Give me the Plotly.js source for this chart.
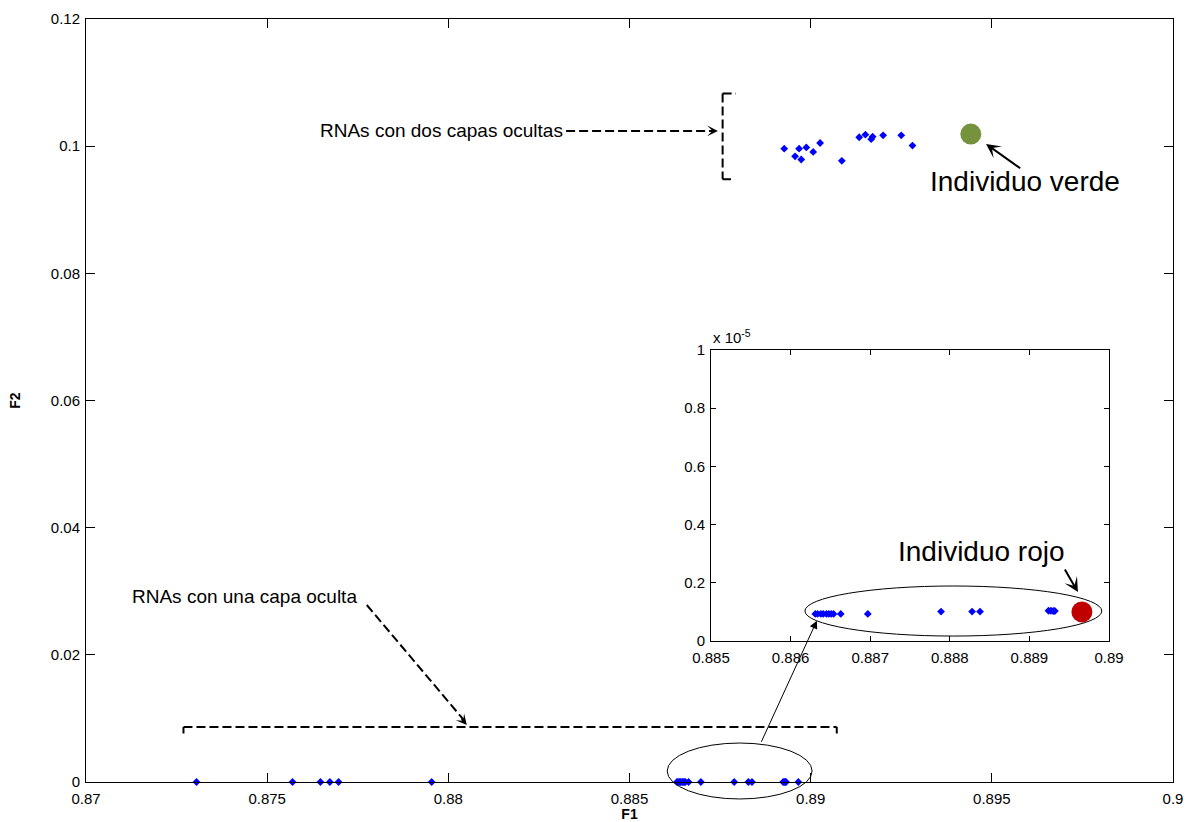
<!DOCTYPE html>
<html>
<head>
<meta charset="utf-8">
<script src="https://cdn.plot.ly/plotly-3.0.1.min.js"></script>
<style>html,body{margin:0;padding:0;background:#fff;}#chart{width:1190px;height:822px;}</style>
</head>
<body>
<div id="chart"></div>
<script>
// ---------- data ----------
// RNAs con dos capas ocultas
const twoLayerF1 = [0.88927, 0.88957, 0.88968, 0.88974, 0.88988, 0.89007, 0.89026, 0.89086, 0.89134, 0.89151, 0.89167, 0.89171, 0.89200, 0.89250, 0.89281];
const twoLayerF2 = [0.0996, 0.0984, 0.0996, 0.0979, 0.0998, 0.0991, 0.1005, 0.0977, 0.1014, 0.1018, 0.1011, 0.1015, 0.1017, 0.1017, 0.1001];
// Individuo verde
const greenF1 = [0.89442];
const greenF2 = [0.1019];
// RNAs con una capa oculta (fuera del zoom)
const oneLayerFarF1 = [0.87305, 0.87570, 0.87647, 0.87673, 0.87697, 0.87954];
const oneLayerFarF2 = [0.95e-6, 0.95e-6, 0.95e-6, 0.95e-6, 0.95e-6, 0.95e-6];
// RNAs con una capa oculta (zona ampliada)
const oneLayerNearF1 = [0.88631, 0.88634, 0.88638, 0.88641, 0.88645, 0.88648, 0.88651, 0.88654, 0.88663, 0.88697, 0.88789, 0.88828, 0.88838, 0.88924, 0.88927, 0.88930, 0.88932];
const oneLayerNearF2 = [0.93e-6, 0.93e-6, 0.93e-6, 0.93e-6, 0.93e-6, 0.93e-6, 0.93e-6, 0.93e-6, 0.93e-6, 0.93e-6, 1.01e-6, 1.01e-6, 1.01e-6, 1.04e-6, 1.04e-6, 1.03e-6, 1.03e-6];
// Individuo rojo
const redF1 = [0.88966];
const redF2 = [1.0e-6];

// tick labels
const mainXTicks = [0.87, 0.875, 0.88, 0.885, 0.89, 0.895, 0.9];
const mainYTicks = [0, 0.02, 0.04, 0.06, 0.08, 0.1, 0.12];
const insetXTicks = [0.885, 0.886, 0.887, 0.888, 0.889, 0.89];
const insetYTickVals = [0, 2e-6, 4e-6, 6e-6, 8e-6, 1e-5];
const insetYTickText = ['0', '0.2', '0.4', '0.6', '0.8', '1'];

// ---------- layout constants ----------
const W = 1190, H = 822;
const M = {l: 86, r: 17, t: 19, b: 40};
const PW = W - M.l - M.r, PH = H - M.t - M.b;
const mainXR = [0.87, 0.9], mainYR = [0, 0.12];
const insXR = [0.885, 0.89], insYR = [0, 1e-5];
const insXD = [0.575, 0.9411], insYD = [0.1848, 0.5662];
const FONT = 'Liberation Sans, Arial, Helvetica, sans-serif';

// data -> paper fraction
function mainP(x, y) {
  return [(x - mainXR[0]) / (mainXR[1] - mainXR[0]), (y - mainYR[0]) / (mainYR[1] - mainYR[0])];
}
function insP(x, y) {
  return [insXD[0] + (x - insXR[0]) / (insXR[1] - insXR[0]) * (insXD[1] - insXD[0]),
          insYD[0] + (y - insYR[0]) / (insYR[1] - insYR[0]) * (insYD[1] - insYD[0])];
}
function px(p) { return [M.l + p[0] * PW, M.t + (1 - p[1]) * PH]; }

const shapes = [];
const annotations = [];
const dashLine = {color: '#000', width: 2, dash: '9px,4px'};

function seg(a, b, line) {
  shapes.push({type: 'line', xref: 'paper', yref: 'paper', x0: a[0], y0: a[1], x1: b[0], y1: b[1], line: line});
}
function head(tip, tail, opts) {
  const t = px(tip), s = px(tail);
  let dx = s[0] - t[0], dy = s[1] - t[1];
  if (opts.short) { const L = Math.hypot(dx, dy); dx = dx / L * opts.short; dy = dy / L * opts.short; }
  annotations.push({xref: 'paper', yref: 'paper', x: tip[0], y: tip[1], ax: dx, ay: dy,
    axref: 'pixel', ayref: 'pixel', text: '', showarrow: true, arrowhead: opts.head,
    arrowsize: opts.size, arrowwidth: opts.width, arrowcolor: '#000', standoff: 0, startstandoff: 0});
}
function ellipse(a, b) {
  shapes.push({type: 'circle', xref: 'paper', yref: 'paper', x0: a[0], y0: a[1], x1: b[0], y1: b[1],
    line: {color: '#000', width: 1}});
}
function label(text, xref, yref, x, y, size, xanchor) {
  annotations.push({xref: xref, yref: yref, x: x, y: y, text: text, showarrow: false,
    xanchor: xanchor || 'center', yanchor: 'middle', font: {family: FONT, size: size, color: '#000'}});
}

// RNAs con dos capas ocultas
label('RNAs con dos capas ocultas', 'x', 'y', 0.88322, 0.1024, 19, 'right');
seg(mainP(0.88325, 0.1024), mainP(0.88735, 0.1024), dashLine);
head(mainP(0.88744, 0.1024), mainP(0.88325, 0.1024), {head: 3, size: 0.9, width: 2, short: 10});
seg(mainP(0.88757, 0.1083), mainP(0.88757, 0.0948), dashLine);
seg(mainP(0.88757, 0.1083), mainP(0.88794, 0.1083), dashLine);
seg(mainP(0.88757, 0.0948), mainP(0.88780, 0.0948), dashLine);

// RNAs con una capa oculta
label('RNAs con una capa oculta', 'x', 'y', 0.87121, 0.02914, 19, 'left');
seg(mainP(0.87775, 0.02784), mainP(0.88045, 0.00960), dashLine);
head(mainP(0.88051, 0.00897), mainP(0.87775, 0.02784), {head: 3, size: 0.9, width: 2, short: 10});
seg(mainP(0.87269, 0.00865), mainP(0.89072, 0.00865), dashLine);
seg(mainP(0.87269, 0.00865), mainP(0.87269, 0.00763), {color: '#000', width: 2});
seg(mainP(0.89072, 0.00865), mainP(0.89072, 0.00763), {color: '#000', width: 2});

// zoom ellipses and link
ellipse(mainP(0.88604, -0.00267), mainP(0.89004, 0.00613));
ellipse(insP(0.88618, 0.17e-6), insP(0.88991, 1.89e-6));
head(insP(0.88633, 0.70e-6), mainP(0.88862, 0.00609), {head: 2, size: 1.6, width: 1});

// Individuo verde
label('Individuo verde', 'x', 'y', 0.89592, 0.09452, 28, 'center');
head(mainP(0.89484, 0.10034), mainP(0.895825, 0.09636), {head: 3, size: 1.2, width: 2});

// Individuo rojo
label('Individuo rojo', 'x2', 'y2', 0.88840, 3.06e-6, 28, 'center');
head(insP(0.88961, 1.68e-6), insP(0.889435, 2.509e-6), {head: 3, size: 1.2, width: 2});

// x 10^-5 multiplier
annotations.push({xref: 'paper', yref: 'paper', x: insXD[0], y: insYD[1], yshift: 2, xanchor: 'left', yanchor: 'bottom',
  text: 'x 10<sup>-5</sup>', showarrow: false, font: {family: FONT, size: 15, color: '#000'}});

const blue = '#0000FF';
const traces = [
  {x: oneLayerFarF1.concat(oneLayerNearF1, redF1), y: oneLayerFarF2.concat(oneLayerNearF2, redF2),
   xaxis: 'x', yaxis: 'y', type: 'scatter', mode: 'markers', cliponaxis: false,
   marker: {symbol: 'diamond', size: 6, color: blue, line: {width: 0}}, name: 'RNAs con una capa oculta'},
  {x: twoLayerF1, y: twoLayerF2, xaxis: 'x', yaxis: 'y', type: 'scatter', mode: 'markers',
   marker: {symbol: 'diamond', size: 6, color: blue, line: {width: 0}}, name: 'RNAs con dos capas ocultas'},
  {x: greenF1, y: greenF2, xaxis: 'x', yaxis: 'y', type: 'scatter', mode: 'markers',
   marker: {symbol: 'circle', size: 21, color: '#76923C', line: {width: 0}}, name: 'Individuo verde'},
  {x: oneLayerNearF1, y: oneLayerNearF2, xaxis: 'x2', yaxis: 'y2', type: 'scatter', mode: 'markers',
   marker: {symbol: 'diamond', size: 6, color: blue, line: {width: 0}}, name: 'zoom'},
  {x: redF1, y: redF2, xaxis: 'x2', yaxis: 'y2', type: 'scatter', mode: 'markers',
   marker: {symbol: 'circle', size: 21, color: '#C00000', line: {width: 0}}, name: 'Individuo rojo'}
];

const axCommon = {showgrid: false, zeroline: false, showline: true, linecolor: '#000', linewidth: 1,
  mirror: 'ticks', ticks: 'inside', tickcolor: '#000', tickwidth: 1,
  tickfont: {family: FONT, size: 15, color: '#000'}};

const layout = {
  width: W, height: H, margin: M, showlegend: false,
  paper_bgcolor: '#fff', plot_bgcolor: '#fff',
  font: {family: FONT, color: '#000'},
  xaxis: Object.assign({}, axCommon, {range: mainXR, tickvals: mainXTicks, ticklen: 9, ticklabelstandoff: 3,
    title: {text: '<b>F1</b>', font: {family: FONT, size: 14, color: '#000'}, standoff: 1}}),
  yaxis: Object.assign({}, axCommon, {range: mainYR, tickvals: mainYTicks, ticklen: 9, ticklabelstandoff: 2,
    title: {text: '<b>F2</b>', font: {family: FONT, size: 14, color: '#000'}, standoff: 26}}),
  xaxis2: Object.assign({}, axCommon, {domain: insXD, anchor: 'y2', range: insXR, tickvals: insetXTicks, ticklen: 5, ticklabelstandoff: 3}),
  yaxis2: Object.assign({}, axCommon, {domain: insYD, anchor: 'x2', range: insYR,
    tickvals: insetYTickVals, ticktext: insetYTickText, ticklen: 5, ticklabelstandoff: 2}),
  shapes: shapes,
  annotations: annotations
};

Plotly.newPlot('chart', traces, layout, {displayModeBar: false, staticPlot: true});
</script>
</body>
</html>
